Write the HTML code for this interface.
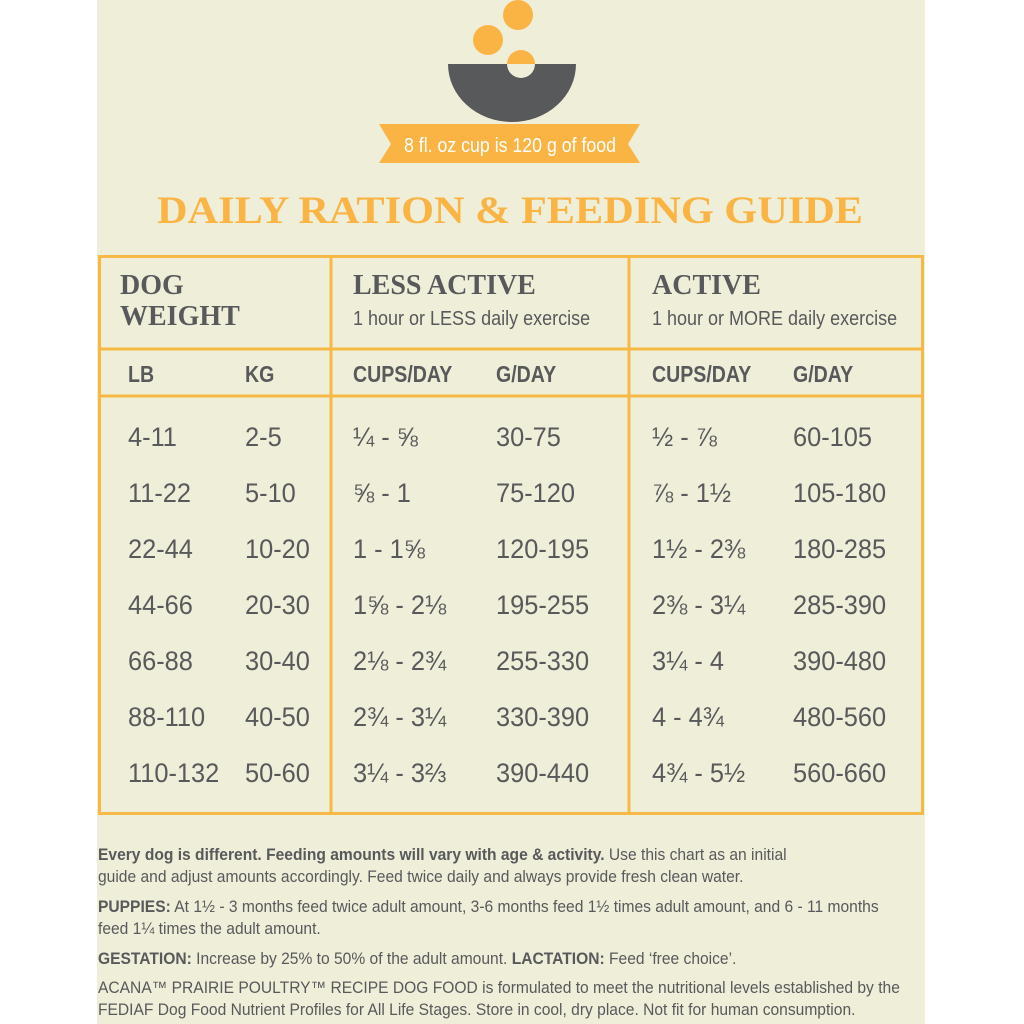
<!DOCTYPE html>
<html><head><meta charset="utf-8"><style>
body{margin:0;width:1024px;height:1024px;background:#fff;position:relative;overflow:hidden;font-family:"Liberation Sans",sans-serif;color:#58595b}
#panel{position:absolute;left:97px;top:0;width:828px;height:1024px;background:#efeed9}
.a{position:absolute;white-space:nowrap}
.t{font-family:"Liberation Serif",serif;font-weight:bold}
.c{font-size:27px;transform:scaleX(0.94);transform-origin:left}
.h{font-size:23px;font-weight:bold;transform:scaleX(0.85);transform-origin:left}
.s{font-size:20px;transform:scaleX(0.9);transform-origin:left}
.f{font-size:16.5px;transform:scaleX(0.945);transform-origin:left;line-height:22px}
</style></head><body>
<div id="panel"></div>
<svg class="a" style="left:0;top:0" width="1024" height="260">
<circle cx="518" cy="15" r="15" fill="#f9b443"/>
<circle cx="488" cy="40" r="15" fill="#f9b443"/>
<path d="M448 64 L576 64 A64 58 0 0 1 448 64Z" fill="#58595b"/>
<path d="M507 64 A14 14 0 0 1 535 64Z" fill="#f9b443"/>
<path d="M507 64 A14 14 0 0 0 535 64Z" fill="#efeed9"/>
<path d="M379 124 L640 124 L628 144 L640 163 L379 163 L391 144Z" fill="#f9b443"/>
<text x="510" y="152" text-anchor="middle" font-family="Liberation Sans" font-size="20" fill="#fff" textLength="212" lengthAdjust="spacingAndGlyphs">8 fl. oz cup is 120 g of food</text>
<text x="510" y="223" text-anchor="middle" font-family="Liberation Serif" font-weight="bold" font-size="39" fill="#f9b443" textLength="706" lengthAdjust="spacingAndGlyphs">DAILY RATION &amp; FEEDING GUIDE</text>
</svg>
<svg class="a" style="left:0;top:0" width="1024" height="1024">
<g stroke="#f6b945" stroke-width="3" fill="none">
<rect x="99.5" y="256.5" width="823" height="557"/>
<line x1="331" y1="256" x2="331" y2="814"/>
<line x1="629" y1="256" x2="629" y2="814"/>
<line x1="99" y1="349" x2="923" y2="349"/>
<line x1="99" y1="396" x2="923" y2="396"/>
</g></svg>
<div class="a t" style="left:120px;top:270px;font-size:28px;line-height:31px">DOG<br>WEIGHT</div>
<div class="a t" style="left:353px;top:270px;font-size:28px">LESS ACTIVE</div>
<div class="a t" style="left:652px;top:270px;font-size:28px">ACTIVE</div>
<div class="a s" style="left:353px;top:308px">1 hour or LESS daily exercise</div>
<div class="a s" style="left:652px;top:308px">1 hour or MORE daily exercise</div>
<div class="a h" style="left:128px;top:361px">LB</div>
<div class="a h" style="left:245px;top:361px">KG</div>
<div class="a h" style="left:353px;top:361px">CUPS/DAY</div>
<div class="a h" style="left:496px;top:361px">G/DAY</div>
<div class="a h" style="left:652px;top:361px">CUPS/DAY</div>
<div class="a h" style="left:793px;top:361px">G/DAY</div>
<div class="a c" style="left:128px;top:409px;line-height:56px">4-11<br>11-22<br>22-44<br>44-66<br>66-88<br>88-110<br>110-132</div>
<div class="a c" style="left:245px;top:409px;line-height:56px">2-5<br>5-10<br>10-20<br>20-30<br>30-40<br>40-50<br>50-60</div>
<div class="a c" style="left:353px;top:409px;line-height:56px">¼ - ⅝<br>⅝ - 1<br>1 - 1⅝<br>1⅝ - 2⅛<br>2⅛ - 2¾<br>2¾ - 3¼<br>3¼ - 3⅔</div>
<div class="a c" style="left:496px;top:409px;line-height:56px">30-75<br>75-120<br>120-195<br>195-255<br>255-330<br>330-390<br>390-440</div>
<div class="a c" style="left:652px;top:409px;line-height:56px">½ - ⅞<br>⅞ - 1½<br>1½ - 2⅜<br>2⅜ - 3¼<br>3¼ - 4<br>4 - 4¾<br>4¾ - 5½</div>
<div class="a c" style="left:793px;top:409px;line-height:56px">60-105<br>105-180<br>180-285<br>285-390<br>390-480<br>480-560<br>560-660</div>
<div class="a f" style="left:98px;top:844px"><b>Every dog is different. Feeding amounts will vary with age &amp; activity.</b> Use this chart as an initial<br>guide and adjust amounts accordingly. Feed twice daily and always provide fresh clean water.</div>
<div class="a f" style="left:98px;top:896px"><b>PUPPIES:</b> At 1½ - 3 months feed twice adult amount, 3-6 months feed 1½ times adult amount, and 6 - 11 months<br>feed 1¼ times the adult amount.</div>
<div class="a f" style="left:98px;top:948px"><b>GESTATION:</b> Increase by 25% to 50% of the adult amount. <b>LACTATION:</b> Feed ‘free choice’.</div>
<div class="a f" style="left:98px;top:977px">ACANA™ PRAIRIE POULTRY™ RECIPE DOG FOOD is formulated to meet the nutritional levels established by the<br>FEDIAF Dog Food Nutrient Profiles for All Life Stages. Store in cool, dry place. Not fit for human consumption.</div>
</body></html>
